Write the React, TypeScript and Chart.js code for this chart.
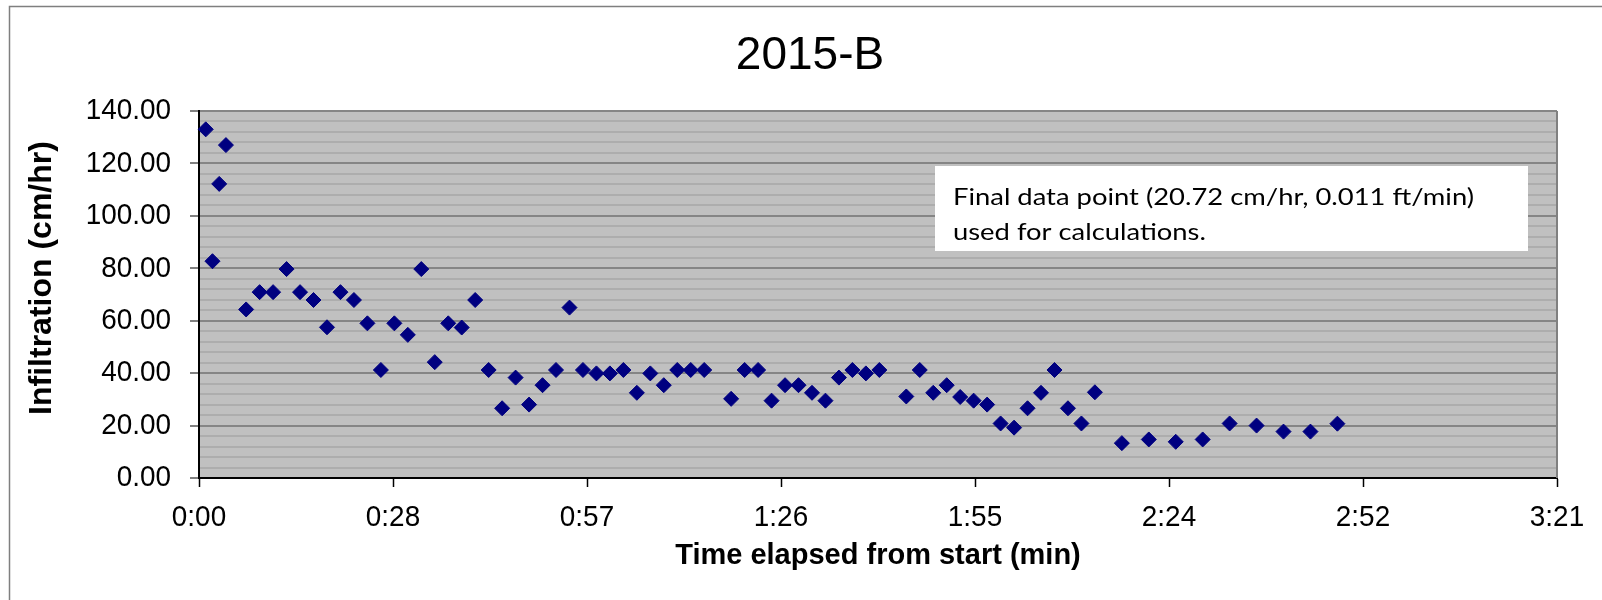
import React, { useEffect, useRef } from 'react';
import { Chart, registerables } from 'chart.js';

Chart.register(...registerables);

const chartTitle = '2015-B';
const xAxisTitle = 'Time elapsed from start (min)';
const yAxisTitle = 'Infiltration (cm/hr)';
const noteLines = ['Final data point (20.72 cm/hr, 0.011 ft/min)', 'used for calculations.'];

// elapsed time in minutes
const elapsedMinutes = [
  1, 2, 3, 4, 7, 9, 11, 13, 15, 17, 19, 21, 23, 25, 27, 29, 31, 33, 35, 37, 39, 41, 43, 45, 47, 49,
  51, 53, 55, 57, 59, 61, 63, 65, 67, 69, 71, 73, 75, 79, 81, 83, 85, 87, 89, 91, 93, 95, 97, 99,
  101, 105, 107, 109, 111, 113, 115, 117, 119, 121, 123, 125, 127, 129, 131, 133, 137, 141, 145,
  149, 153, 157, 161, 165, 169,
];

// infiltration rate in cm/hr
const infiltrationCmHr = [
  133.0, 82.7, 112.2, 127.0, 64.3, 70.9, 70.9, 79.7, 70.9, 67.9, 57.5, 70.9, 67.9, 59.0, 41.2, 59.0,
  54.6, 79.7, 44.2, 59.0, 57.4, 67.9, 41.2, 26.6, 38.3, 28.0, 35.4, 41.2, 65.0, 41.2, 39.9, 39.9,
  41.2, 32.5, 39.9, 35.4, 41.2, 41.2, 41.2, 30.2, 41.2, 41.2, 29.5, 35.4, 35.4, 32.5, 29.5, 38.3,
  41.2, 39.9, 41.2, 31.1, 41.2, 32.5, 35.4, 30.9, 29.5, 28.0, 20.8, 19.2, 26.6, 32.5, 41.2, 26.6,
  20.8, 32.7, 13.3, 14.7, 13.8, 14.7, 20.8, 20.0, 17.7, 17.7, 20.72,
];

const xTickValues = [0, 28.8, 57.6, 86.4, 115.2, 144, 172.8, 201.6];
const xTickLabels = ['0:00', '0:28', '0:57', '1:26', '1:55', '2:24', '2:52', '3:21'];
const yMajorTicks = [0, 20, 40, 60, 80, 100, 120, 140];
const yTickLabels = ['0.00', '20.00', '40.00', '60.00', '80.00', '100.00', '120.00', '140.00'];
const yMinorStep = 4;

const ARIAL = '"Liberation Sans", Arial, sans-serif';

function drawStretched(ctx: any, text: string, x: number, y: number, sx: number, sy: number) {
  ctx.save();
  ctx.translate(x, y);
  ctx.scale(sx, sy);
  ctx.fillText(text, 0, 0);
  ctx.restore();
}

const decor = {
  id: 'decor',
  beforeDraw(chart: any) {
    const { ctx, chartArea: a } = chart;
    ctx.save();
    ctx.fillStyle = '#C0C0C0';
    ctx.fillRect(a.left, a.top, a.right - a.left, a.bottom - a.top);
    ctx.restore();
  },
  afterDraw(chart: any) {
    const { ctx, chartArea: a } = chart;
    const xs = chart.scales.x;
    const ys = chart.scales.y;
    ctx.save();
    // outer frame
    ctx.strokeStyle = '#7F7F7F';
    ctx.lineWidth = 1.5;
    ctx.beginPath();
    ctx.moveTo(9.5, 600);
    ctx.lineTo(9.5, 6.5);
    ctx.lineTo(1602, 6.5);
    ctx.stroke();
    // plot right border
    ctx.strokeStyle = '#808080';
    ctx.lineWidth = 2;
    ctx.beginPath();
    ctx.moveTo(a.right, a.top);
    ctx.lineTo(a.right, a.bottom);
    ctx.stroke();

    ctx.fillStyle = '#000';
    // tick labels (placed by the library's scales)
    ctx.font = `30px ${ARIAL}`;
    ctx.textBaseline = 'middle';
    ctx.textAlign = 'right';
    yMajorTicks.forEach((v, i) => {
      drawStretched(ctx, yTickLabels[i], 171, ys.getPixelForValue(v), 0.93, 1);
    });
    ctx.textAlign = 'center';
    xTickValues.forEach((v, i) => {
      drawStretched(ctx, xTickLabels[i], xs.getPixelForValue(v), 518, 0.93, 1);
    });

    // chart title
    ctx.textAlign = 'center';
    ctx.textBaseline = 'alphabetic';
    ctx.font = `46px ${ARIAL}`;
    ctx.fillText(chartTitle, 810, 69);
    // axis titles
    ctx.font = `bold 29px ${ARIAL}`;
    ctx.fillText(xAxisTitle, (a.left + a.right) / 2, 564);
    ctx.save();
    ctx.font = `bold 32px ${ARIAL}`;
    ctx.translate(51, 278);
    ctx.rotate(-Math.PI / 2);
    ctx.fillText(yAxisTitle, 0, 0);
    ctx.restore();
    // note box
    ctx.fillStyle = '#FFFFFF';
    ctx.fillRect(935, 166, 593, 85);
    ctx.fillStyle = '#000';
    ctx.textAlign = 'left';
    ctx.font = '23px Lato, "Open Sans", sans-serif';
    const w = ctx.measureText(noteLines[0]).width;
    const sx = 521 / w;
    noteLines.forEach((line, i) => {
      drawStretched(ctx, line, 953, 205 + i * 35, sx, 1);
    });
    ctx.restore();
  },
};

export default function App() {
  const ref = useRef<HTMLCanvasElement | null>(null);
  useEffect(() => {
    if (!ref.current) return;
    const chart = new Chart(ref.current, {
      type: 'scatter',
      data: {
        datasets: [
          {
            label: 'Infiltration',
            data: elapsedMinutes.map((t, i) => ({ x: t, y: infiltrationCmHr[i] })),
            pointStyle: 'rectRot',
            pointRadius: 7.5,
            pointHoverRadius: 7.5,
            backgroundColor: '#000080',
            borderColor: '#000080',
            borderWidth: 1,
            showLine: false,
            clip: false as any,
          },
        ],
      },
      options: {
        animation: false,
        responsive: false,
        devicePixelRatio: 1,
        layout: { padding: { top: 111, right: 45, left: 0, bottom: 0 } },
        plugins: {
          legend: { display: false },
          tooltip: { enabled: false },
          title: { display: false },
        },
        scales: {
          x: {
            type: 'linear',
            min: 0,
            max: 201.6,
            afterBuildTicks: (s: any) => {
              s.ticks = xTickValues.map((v) => ({ value: v }));
            },
            afterFit: (s: any) => {
              s.height = 122;
            },
            ticks: { display: false, autoSkip: false, maxRotation: 0 },
            grid: {
              drawOnChartArea: false,
              drawTicks: true,
              tickLength: 9,
              tickColor: '#000',
              tickWidth: 1.5,
            },
            border: { display: true, color: '#000', width: 2 },
          },
          y: {
            type: 'linear',
            min: 0,
            max: 140,
            afterFit: (s: any) => {
              s.width = 199;
            },
            ticks: { display: false, stepSize: yMinorStep, autoSkip: false },
            grid: {
              drawTicks: true,
              tickLength: 9,
              color: (c: any) => {
                const v = c.tick ? c.tick.value : 0;
                if (v === 0) return 'rgba(0,0,0,0)';
                return v % 20 === 0 ? '#858585' : '#ADADAD';
              },
              lineWidth: 2,
              tickColor: (c: any) => {
                const v = c.tick ? c.tick.value : 0;
                return v % 20 === 0 ? '#808080' : 'rgba(0,0,0,0)';
              },
              tickWidth: 2,
            },
            border: { display: true, color: '#000', width: 2 },
          },
        },
      },
      plugins: [decor],
    });
    return () => chart.destroy();
  }, []);
  return (
    <div style={{ position: 'absolute', left: 0, top: 0, width: 1602, height: 600 }}>
      <canvas ref={ref} width={1602} height={600} style={{ display: 'block' }} />
    </div>
  );
}
